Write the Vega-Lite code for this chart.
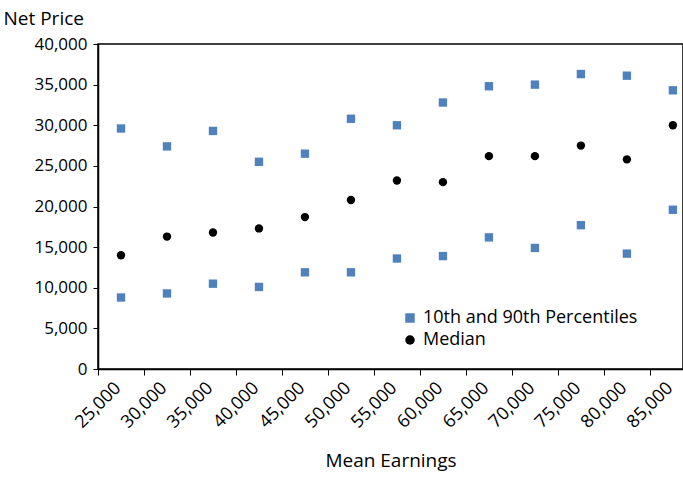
{
  "$schema": "https://vega.github.io/schema/vega-lite/v6.json",
  "width": 585, "height": 325,
  "autosize": {"type": "none"},
  "padding": {"left": 98, "top": 44, "right": 0, "bottom": 113},
  "background": "white",
  "config": {"font": "Open Sans", "view": {"stroke": "black", "strokeWidth": 1.5}},
  "data": {"values": [
    {"x":27500,"y":29600,"s":"10th and 90th Percentiles"},
    {"x":32500,"y":27400,"s":"10th and 90th Percentiles"},
    {"x":37500,"y":29300,"s":"10th and 90th Percentiles"},
    {"x":42500,"y":25500,"s":"10th and 90th Percentiles"},
    {"x":47500,"y":26500,"s":"10th and 90th Percentiles"},
    {"x":52500,"y":30800,"s":"10th and 90th Percentiles"},
    {"x":57500,"y":30000,"s":"10th and 90th Percentiles"},
    {"x":62500,"y":32800,"s":"10th and 90th Percentiles"},
    {"x":67500,"y":34800,"s":"10th and 90th Percentiles"},
    {"x":72500,"y":35000,"s":"10th and 90th Percentiles"},
    {"x":77500,"y":36300,"s":"10th and 90th Percentiles"},
    {"x":82500,"y":36100,"s":"10th and 90th Percentiles"},
    {"x":87500,"y":34300,"s":"10th and 90th Percentiles"},
    {"x":27500,"y":8800,"s":"10th and 90th Percentiles"},
    {"x":32500,"y":9300,"s":"10th and 90th Percentiles"},
    {"x":37500,"y":10500,"s":"10th and 90th Percentiles"},
    {"x":42500,"y":10100,"s":"10th and 90th Percentiles"},
    {"x":47500,"y":11900,"s":"10th and 90th Percentiles"},
    {"x":52500,"y":11900,"s":"10th and 90th Percentiles"},
    {"x":57500,"y":13600,"s":"10th and 90th Percentiles"},
    {"x":62500,"y":13900,"s":"10th and 90th Percentiles"},
    {"x":67500,"y":16200,"s":"10th and 90th Percentiles"},
    {"x":72500,"y":14900,"s":"10th and 90th Percentiles"},
    {"x":77500,"y":17700,"s":"10th and 90th Percentiles"},
    {"x":82500,"y":14200,"s":"10th and 90th Percentiles"},
    {"x":87500,"y":19600,"s":"10th and 90th Percentiles"},
    {"x":27500,"y":14000,"s":"Median"},
    {"x":32500,"y":16300,"s":"Median"},
    {"x":37500,"y":16800,"s":"Median"},
    {"x":42500,"y":17300,"s":"Median"},
    {"x":47500,"y":18700,"s":"Median"},
    {"x":52500,"y":20800,"s":"Median"},
    {"x":57500,"y":23200,"s":"Median"},
    {"x":62500,"y":23000,"s":"Median"},
    {"x":67500,"y":26200,"s":"Median"},
    {"x":72500,"y":26200,"s":"Median"},
    {"x":77500,"y":27500,"s":"Median"},
    {"x":82500,"y":25800,"s":"Median"},
    {"x":87500,"y":30000,"s":"Median"}
  ]},
  "mark": {"type": "point", "filled": true, "opacity": 1, "size": 70, "clip": false},
  "encoding": {
    "x": {"field": "x", "type": "quantitative",
      "scale": {"domain": [25000, 88600], "nice": false, "zero": false},
      "axis": {"values": [25000,30000,35000,40000,45000,50000,55000,60000,65000,70000,75000,80000,85000],
        "format": ",d", "labelAngle": -45, "labelAlign": "center", "labelBaseline": "middle", "labelPadding": 30, "labelFontSize": 18, "labelColor": "black",
        "labelOverlap": false, "labelBound": false, "labelFlush": false,
        "grid": false, "domainColor": "black", "domainWidth": 1.5, "tickColor": "black", "tickSize": 6,
        "title": "Mean Earnings", "titleFontSize": 19, "titleFontWeight": "normal", "titleColor": "black", "titlePadding": 20}},
    "y": {"field": "y", "type": "quantitative",
      "scale": {"domain": [0, 40000], "nice": false},
      "axis": {"values": [0,5000,10000,15000,20000,25000,30000,35000,40000], "format": ",d",
        "labelFontSize": 17, "labelColor": "black", "grid": false, "domainColor": "black", "domainWidth": 1.5,
        "tickColor": "black", "tickSize": 5, "labelPadding": 6, "labelOverlap": false,
        "title": "Net Price", "titleAngle": 0, "titleX": -95, "titleY": -16, "titleAlign": "left", "titleBaseline": "bottom",
        "titleFontSize": 19, "titleFontWeight": "normal", "titleColor": "black"}},
    "color": {"field": "s", "type": "nominal",
      "scale": {"domain": ["10th and 90th Percentiles", "Median"], "range": ["#4F81BD", "black"]},
      "legend": {"title": null, "orient": "none", "legendX": 303, "legendY": 265, "labelFontSize": 18, "labelColor": "black", "labelLimit": 0, "symbolSize": 90, "rowPadding": 4}},
    "shape": {"field": "s", "type": "nominal",
      "scale": {"domain": ["10th and 90th Percentiles", "Median"], "range": ["square", "circle"]}, "legend": null}
  }
}
